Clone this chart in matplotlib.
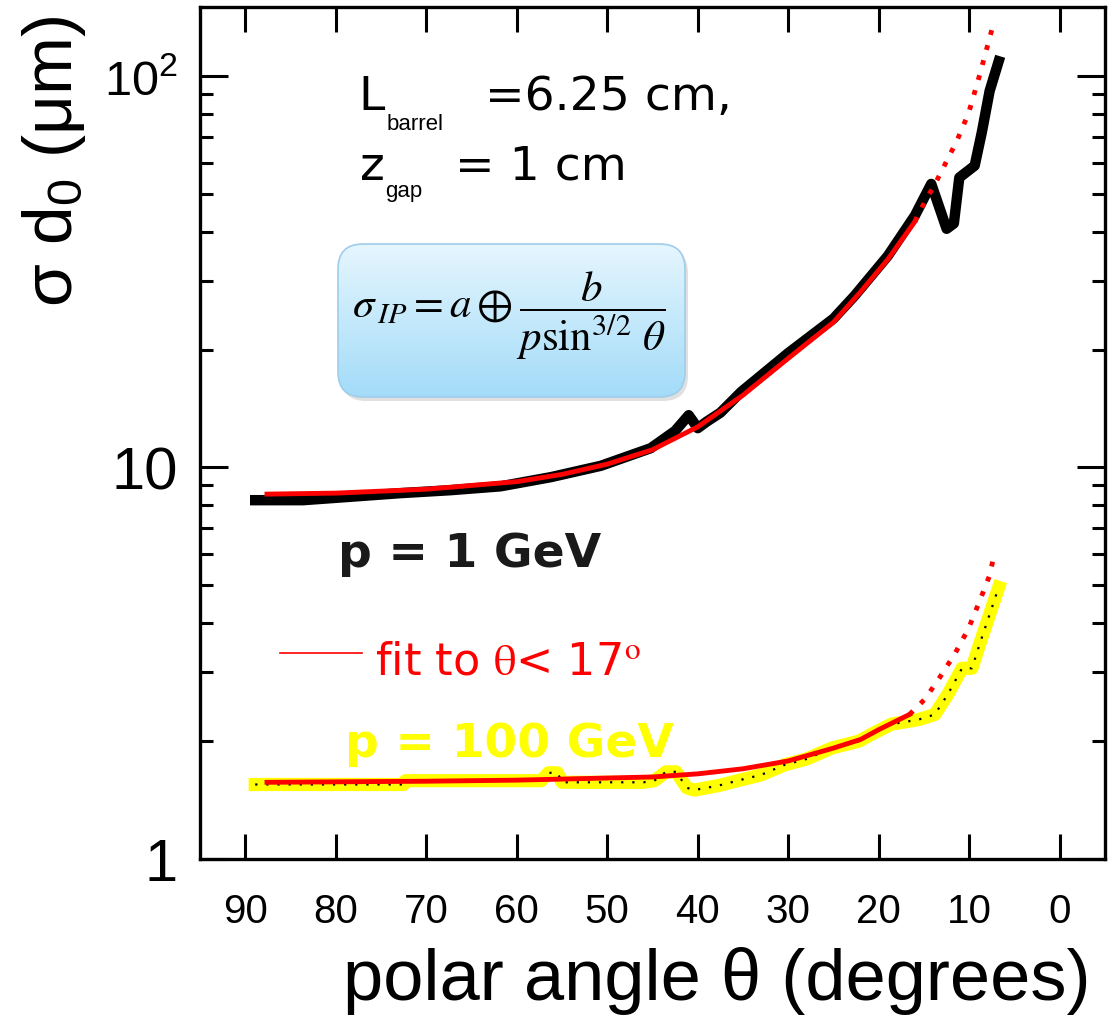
import numpy as np
import matplotlib
matplotlib.use('Agg')
import matplotlib.pyplot as plt
from matplotlib.patches import FancyBboxPatch
from matplotlib.lines import Line2D
from matplotlib.ticker import LogLocator, NullFormatter, NullLocator
import matplotlib.transforms as mtransforms

# ---------------- data ----------------
theta_1gev = [88.9, 83.6, 78.9, 72.8, 67.3, 61.8, 56.2, 50.7, 45.2, 42.5, 41.0, 40.0,
              39.0, 37.5, 35.2, 30.0, 25.0, 22.7, 19.0, 16.0, 14.2, 12.5, 11.7, 11.1,
              9.4, 8.6, 7.75, 6.75]
sigma_1gev = [8.25, 8.25, 8.4, 8.6, 8.75, 8.95, 9.45, 10.1, 11.2, 12.4, 13.6, 12.6,
              13.1, 13.8, 15.6, 19.6, 24.0, 27.4, 34.7, 44.0, 53.0, 40.7, 42.0, 55.0,
              59.0, 72.0, 91.5, 109.0]

theta_fit1_solid = [87.6, 80, 70, 60, 55, 50, 45, 40, 35, 30, 25, 22, 19, 16]
sigma_fit1_solid = [8.55, 8.6, 8.8, 9.2, 9.6, 10.2, 11.1, 12.7, 15.3, 19.0, 23.5, 28.1, 34.0, 42.5]
theta_fit1_dot = [16, 15.5, 13.6, 11.4, 10.07, 8.85, 7.4]
sigma_fit1_dot = [42.5, 45.0, 54.0, 68.0, 80.4, 100.6, 134.0]

theta_100gev = [88.9, 72.5, 72.3, 57.3, 56.5, 55.5, 55.0, 46.0, 44.8, 43.5, 42.4, 41.2,
                40.4, 37.7, 34.9, 33.0, 30.4, 28.0, 25.2, 22.2, 20.5, 18.6, 15.6, 13.8,
                12.3, 10.8, 9.7, 8.85, 7.86, 6.75]
sigma_100gev = [1.55, 1.55, 1.585, 1.585, 1.66, 1.66, 1.57, 1.57, 1.585, 1.67, 1.67, 1.52,
                1.50, 1.54, 1.60, 1.64, 1.74, 1.80, 1.92, 2.0, 2.1, 2.21, 2.27, 2.34,
                2.65, 3.07, 3.07, 3.54, 4.14, 4.94]

theta_fit100_solid = [87.6, 70, 60, 50, 45, 40, 35, 30, 25, 22, 20, 16.6]
sigma_fit100_solid = [1.57, 1.58, 1.59, 1.61, 1.62, 1.65, 1.70, 1.78, 1.92, 2.02, 2.14, 2.34]
theta_fit100_dot = [16.6, 14.9, 13.3, 11.6, 10.1, 8.85, 7.75, 7.2]
sigma_fit100_dot = [2.34, 2.56, 2.90, 3.34, 3.87, 4.56, 5.30, 6.06]

xtick_values = [90, 80, 70, 60, 50, 40, 30, 20, 10, 0]
xtick_labels = ['90', '80', '70', '60', '50', '40', '30', '20', '10', '0']
ytick_values = [1, 10, 100]
ytick_labels = ['1', '10', '$10^2$']

# ---------------- fonts ----------------
SANS = 'Liberation Sans'
plt.rcParams['mathtext.fontset'] = 'custom'
plt.rcParams['mathtext.rm'] = SANS
plt.rcParams['mathtext.it'] = SANS + ':italic'
plt.rcParams['mathtext.bf'] = SANS + ':bold'

W, H = 1118, 1020
fig = plt.figure(figsize=(W / 100, H / 100), dpi=100)


def fx(px):
    return px / W


def fy(py):
    return 1 - py / H


ax = fig.add_axes([fx(200), fy(860), 905 / W, 852 / H])
ax.set_yscale('log')
ax.set_xlim(95, -5)
ax.set_ylim(1, 150)

# p = 100 GeV
ax.plot(theta_100gev, sigma_100gev, color='#ffff00', lw=9.5, zorder=2)
ax.plot(theta_100gev, sigma_100gev, color='black', lw=1.6, linestyle=(0, (1, 4)), zorder=3)
ax.plot(theta_fit100_solid, sigma_fit100_solid, color='red', lw=3.5, zorder=4)
ax.plot(theta_fit100_dot, sigma_fit100_dot, color='red', lw=3.5, linestyle=(0, (1, 2.2)),
        dash_capstyle='butt', zorder=4)

# p = 1 GeV
ax.plot(theta_1gev, sigma_1gev, color='black', lw=7.5, zorder=2)
ax.plot(theta_fit1_solid, sigma_fit1_solid, color='red', lw=3.5, zorder=4)
ax.plot(theta_fit1_dot, sigma_fit1_dot, color='red', lw=3.5, linestyle=(0, (1, 2.2)),
        dash_capstyle='butt', zorder=4)

# ticks
ax.set_xticks(xtick_values)
ax.set_xticklabels(xtick_labels, fontfamily=SANS, fontsize=29)
ax.xaxis.set_minor_locator(NullLocator())
ax.tick_params(axis='x', which='major', direction='in', length=18, width=2.2,
               top=True, bottom=True, pad=24)
ax.set_yticks(ytick_values)
ax.set_yticklabels(ytick_labels, fontfamily=SANS, fontsize=43)
ax.get_yticklabels()[2].set_fontsize(35)
ax.yaxis.set_minor_locator(LogLocator(base=10, subs=np.arange(2, 10)))
ax.yaxis.set_minor_formatter(NullFormatter())
ax.tick_params(axis='y', which='major', direction='in', length=20, width=2.2,
               left=True, right=True, pad=16)
ax.tick_params(axis='y', which='minor', direction='in', length=9.5, width=2.2,
               left=True, right=True)
for s in ax.spines.values():
    s.set_linewidth(2.4)

# axis labels
fig.text(fx(717), fy(1000), 'polar angle θ (degrees)', ha='center', va='baseline',
         fontfamily=SANS, fontsize=52)
fig.text(fx(72), fy(161), 'σ d$_0$ (μm)', rotation=90, rotation_mode='anchor',
         ha='center', va='baseline', fontfamily=SANS, fontsize=50)

# annotations
fig.text(fx(358), fy(110), 'L', fontfamily='DejaVu Sans', fontsize=34, va='baseline')
fig.text(fx(387), fy(130), 'barrel', fontfamily=SANS, fontsize=16, va='baseline')
fig.text(fx(485), fy(110), '=6.25 cm,', fontfamily='DejaVu Sans', fontsize=34, va='baseline')
fig.text(fx(360), fy(180), 'z', fontfamily='DejaVu Sans', fontsize=34, va='baseline')
fig.text(fx(385), fy(197), 'gap', fontfamily=SANS, fontsize=16, va='baseline')
fig.text(fx(455), fy(180), '= 1 cm', fontfamily='DejaVu Sans', fontsize=34, va='baseline')

fig.text(fx(338), fy(567), 'p = 1 GeV', fontfamily='DejaVu Sans', fontweight='bold',
         fontsize=34, color='#1a1a1a', va='baseline')
fig.text(fx(345), fy(757), 'p = 100 GeV', fontfamily='DejaVu Sans', fontweight='bold',
         fontsize=34, color='#ffff00', va='baseline')
fig.text(fx(375), fy(675), r'fit to $\mathrm{\theta}$< 17$^{\mathrm{o}}$', fontfamily='DejaVu Sans',
         math_fontfamily='stix', fontsize=32, color='red', va='baseline')
fig.add_artist(Line2D([fx(280), fx(362)], [fy(654), fy(654)], transform=fig.transFigure,
                      color='red', lw=1.2))

# formula box
bx0, by0, bx1, by1 = 338, 245, 685, 398
bax = fig.add_axes([fx(bx0), fy(by1), (bx1 - bx0) / W, (by1 - by0) / H])
bax.set_axis_off()
aspect = (bx1 - bx0) / (by1 - by0)
r = 25 / (bx1 - bx0)
shadow_tr = bax.transAxes + mtransforms.ScaledTranslation(3 / 100, -4 / 100, fig.dpi_scale_trans)
shadow = FancyBboxPatch((0, 0), 1, 1, boxstyle=f'round,pad=0,rounding_size={r}',
                        mutation_aspect=aspect, transform=shadow_tr, facecolor='#000000',
                        alpha=0.12, edgecolor='none', clip_on=False, zorder=0)
bax.add_patch(shadow)
top_c = np.array([0.90, 0.965, 0.995])
bot_c = np.array([0.64, 0.86, 0.975])
t = np.linspace(0, 1, 256)[:, None, None]
grad = top_c[None, None, :] * (1 - t) + bot_c[None, None, :] * t
im = bax.imshow(grad, extent=[0, 1, 0, 1], aspect='auto', origin='upper',
                transform=bax.transAxes, zorder=1)
box = FancyBboxPatch((0, 0), 1, 1, boxstyle=f'round,pad=0,rounding_size={r}',
                     mutation_aspect=aspect, transform=bax.transAxes, facecolor='none',
                     edgecolor='#9fcdea', lw=1.2, clip_on=False, zorder=2)
bax.add_patch(box)
im.set_clip_path(box)
bax.set_xlim(0, 1)
bax.set_ylim(0, 1)

fig.text(fx(509), fy(316),
         r'$\sigma_{\,IP} = a \oplus \dfrac{b}{p\sin^{3/2}\,\theta}$',
         math_fontfamily='stix', fontsize=31, ha='center', va='center')

fig.savefig('out.png', dpi=100)
